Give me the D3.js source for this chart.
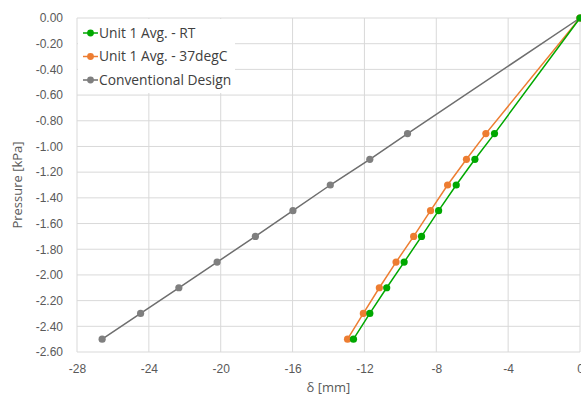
<!DOCTYPE html>
<html>
<head>
<meta charset="utf-8">
<script src="https://cdn.jsdelivr.net/npm/d3@7"></script>
<style>
  body { margin: 0; background: #fff; }
  svg { display: block; font-family: "Open Sans", "Liberation Sans", sans-serif; }
  .tick text { fill: #595959; font-size: 12px; }
  .grid line { stroke: #d9d9d9; stroke-width: 1; }
</style>
</head>
<body>
<svg class="chart"></svg>
<script>
const pressure = [0, -0.9, -1.1, -1.3, -1.5, -1.7, -1.9, -2.1, -2.3, -2.5];
const deltaRT = [0, -4.76, -5.85, -6.89, -7.87, -8.82, -9.79, -10.76, -11.7, -12.61];
const delta37 = [0, -5.24, -6.32, -7.37, -8.32, -9.26, -10.24, -11.17, -12.06, -12.94];
const deltaConv = [0, -9.6, -11.7, -13.9, -15.98, -18.07, -20.2, -22.33, -24.46, -26.6];
const seriesNames = ['Unit 1 Avg. - RT', 'Unit 1 Avg. - 37degC', 'Conventional Design'];
const xTicks = [-28, -24, -20, -16, -12, -8, -4, 0];
const yTicks = [0, -0.2, -0.4, -0.6, -0.8, -1.0, -1.2, -1.4, -1.6, -1.8, -2.0, -2.2, -2.4, -2.6];

const W = 581, H = 398;
const margin = {top: 18, right: 1, bottom: 46, left: 77};
const width = W - margin.left - margin.right;
const height = H - margin.top - margin.bottom;

const colors = ['#00a800', '#ed7d31', '#6e6e6e'];
const markerColors = ['#00a800', '#ed7d31', '#7f7f7f'];

const x = d3.scaleLinear().domain([-28, 0]).range([0, width]);
const y = d3.scaleLinear().domain([-2.6, 0]).range([height, 0]);

const svg = d3.select('.chart').attr('width', W).attr('height', H);
const chart = svg.append('g')
    .attr('transform', `translate(${ margin.left },${ margin.top })`);

// gridlines
chart.append('g').attr('class', 'grid')
  .selectAll('line').data(yTicks).enter().append('line')
    .attr('x1', 0).attr('x2', width)
    .attr('y1', (d) => y(d)).attr('y2', (d) => y(d));
chart.append('g').attr('class', 'grid')
  .selectAll('line').data(xTicks).enter().append('line')
    .attr('y1', 0).attr('y2', height)
    .attr('x1', (d) => x(d)).attr('x2', (d) => x(d));

const xAxis = d3.axisBottom(x).tickValues(xTicks).tickSize(0).tickPadding(12)
    .tickFormat((d) => d);
const yAxis = d3.axisLeft(y).tickValues(yTicks).tickSize(0).tickPadding(14)
    .tickFormat((d) => d3.format('.2f')(d).replace('−', '-'));

chart.append('g')
    .attr('transform', `translate(0,${ height })`)
    .call(xAxis)
    .call((g) => g.select('.domain').remove());
chart.append('g')
    .call(yAxis)
    .call((g) => g.select('.domain').remove());

// series
const series = [deltaRT, delta37, deltaConv].map((vals, i) => ({
  name: seriesNames[i],
  pts: vals.map((v, j) => ({x: v, y: pressure[j]}))
}));

const line = d3.line().x((d) => x(d.x)).y((d) => y(d.y));

// draw conventional first, then orange, then green on top
[2, 1, 0].forEach((i) => {
  const s = series[i];
  chart.append('path')
      .datum(s.pts)
      .attr('fill', 'none')
      .attr('stroke', colors[i])
      .attr('stroke-width', 1.5)
      .attr('d', line);
  chart.selectAll(null)
      .data(s.pts)
    .enter().append('circle')
      .attr('cx', (d) => x(d.x))
      .attr('cy', (d) => y(d.y))
      .attr('r', 3.6)
      .attr('fill', markerColors[i]);
});

// legend
const legend = chart.append('g').attr('transform', 'translate(1,1)');
legend.append('rect')
    .attr('width', 157).attr('height', 74)
    .attr('fill', '#fff');
seriesNames.forEach((name, i) => {
  const gy = 14 + i * 23.5;
  const g = legend.append('g').attr('transform', `translate(5,${ gy })`);
  g.append('line').attr('x1', 0).attr('x2', 15).attr('y1', 0).attr('y2', 0)
      .attr('stroke', colors[i]).attr('stroke-width', 1.5);
  g.append('circle').attr('cx', 7.5).attr('cy', 0).attr('r', 3.4)
      .attr('fill', markerColors[i]);
  g.append('text').attr('x', 16).attr('y', 0).attr('dy', '0.35em')
      .attr('font-size', 13.8).attr('fill', '#404040')
      .text(name);
});

// axis titles
svg.append('text')
    .attr('transform', `translate(22,${ margin.top + height / 2 }) rotate(-90)`)
    .attr('text-anchor', 'middle')
    .attr('font-size', 13).attr('fill', '#595959')
    .text('Pressure [kPa]');
svg.append('text')
    .attr('x', margin.left + width / 2)
    .attr('y', 392)
    .attr('text-anchor', 'middle')
    .attr('font-size', 13).attr('fill', '#595959')
    .text('δ [mm]');
</script>
</body>
</html>
